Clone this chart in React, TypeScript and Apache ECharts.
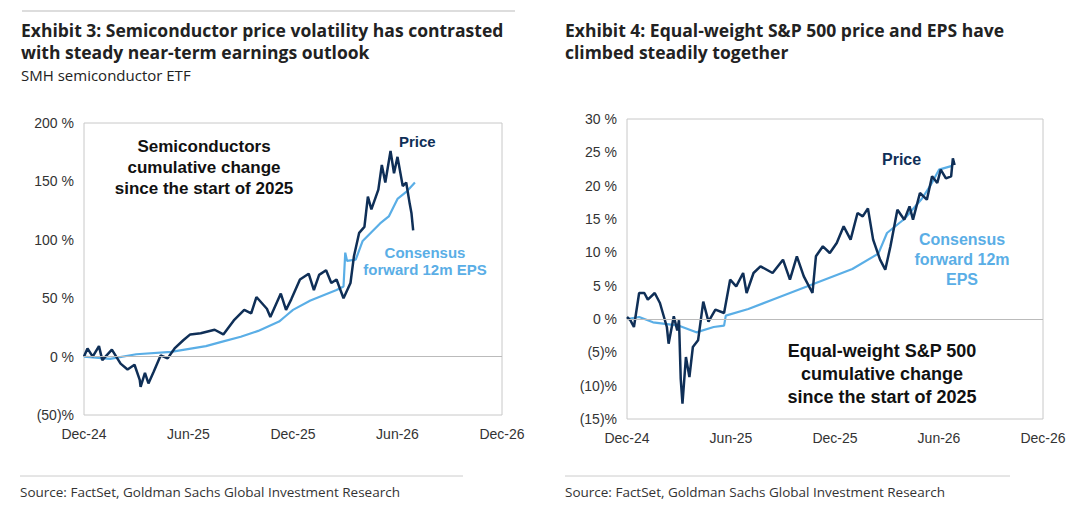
import React, { useEffect, useRef } from "react";
import * as echarts from "echarts";

const monthLabels = ["Dec-24", "Jun-25", "Dec-25", "Jun-26", "Dec-26"];

const semiPriceX = [0,0.2,0.5,0.86,1.05,1.6,2.1,2.5,2.9,3.2,3.25,3.5,3.7,4.0,4.4,4.8,5.2,5.7,6.1,6.7,7.5,8.0,8.6,9.2,9.6,9.9,10.5,10.7,11.3,11.6,11.9,12.4,12.9,13.2,13.5,13.9,14.2,14.5,14.9,15.3,15.5,15.8,16.1,16.3,16.5,16.9,17.1,17.3,17.6,17.8,18.0,18.3,18.5,18.7,18.8,18.9];
const semiPrice = [0,7,0,9,-3,6,-6,-11,-7,-20,-26,-14,-23,-13,1,-1.5,7,14,19,20,23,19,31,40,37,51,41,34,54,40,49,66,71,57,70,74,63,66,50,63,86,106,111,137,126,143,164,149,176,157,171,146,149,131,123,108];
const semiEpsX = [0,1.5,3,5,7,8,9,10,11.2,11.6,12,13,14.5,14.9,15.0,15.1,15.6,16,17,17.5,18,18.5,19];
const semiEps = [0,-2,2,4,9,13,17,22,30,35,40,48,57,60,89,82,83,99,114,120,135,141,149];

const ewPriceX = [0,0.2,0.4,0.7,1.0,1.2,1.6,1.9,2.3,2.4,2.7,2.9,3.0,3.1,3.2,3.4,3.6,3.8,4.1,4.4,4.7,5.1,5.6,5.95,6.3,6.7,6.9,7.3,7.7,8.4,9.0,9.4,9.8,10.2,10.7,10.9,11.3,11.7,12.1,12.5,12.9,13.3,13.6,13.9,14.2,14.6,14.9,15.2,15.6,16.0,16.3,16.5,16.9,17.3,17.6,17.9,18.1,18.4,18.7,18.8,18.9];
const ewPrice = [0.3,-0.2,-1.2,3.9,3.9,2.9,3.9,2.4,-1.2,-3.7,0.4,-1.7,-0.2,-9,-12.7,-5.7,-8.7,-4.2,-3.2,2.6,-0.4,1.4,0.9,5.9,4.9,6.9,3.9,6.9,7.9,6.9,8.9,5.9,9.4,6.4,3.9,9.4,10.9,9.9,11.4,13.9,11.9,15.9,15.4,16.6,11.9,8.9,7.4,10.9,16.4,14.9,16.9,14.9,18.9,17.9,21.4,20.4,22.4,21.1,21.4,24.1,23.1];
const ewEpsX = [0,0.7,1.5,3,4,5,5.6,5.7,7,8.5,10,11.5,13,14.5,15.0,16,17,17.5,18,18.8];
const ewEps = [0,0.3,-0.5,-1,-2,-1.2,-1,0.5,1.5,3,4.5,6,7.5,9.8,12.9,15,18,20,22.4,23];

const DARK = "#0f2f57";
const LIGHT = "#5aaee6";
const FONT = "Liberation Sans, Arial, sans-serif";
const TFONT = "Open Sans, sans-serif";

const zip = (xs: number[], ys: number[]) => xs.map((x, i) => [x, ys[i]]);
const yFmt = (v: number) => (v < 0 ? `(${-v})%` : `${v} %`);

export default function App() {
  const ref = useRef<HTMLDivElement>(null);
  useEffect(() => {
    const chart = echarts.init(ref.current!, null, { renderer: "svg" });
    const xAxis = (gi: number) => ({
      type: "value", gridIndex: gi, min: 0, max: 24, interval: 6,
      axisLine: { show: false }, axisTick: { show: false }, splitLine: { show: false },
      axisLabel: { formatter: (v: number) => monthLabels[v / 6] ?? "", color: "#333", fontSize: 14, fontFamily: FONT, margin: 12 },
    });
    const yAxis = (gi: number, min: number, max: number, iv: number) => ({
      type: "value", gridIndex: gi, min, max, interval: iv,
      axisLine: { show: false }, axisTick: { show: false }, splitLine: { show: false },
      axisLabel: { formatter: yFmt, color: "#333", fontSize: 14, fontFamily: FONT, margin: 10 },
    });
    const zero = { silent: true, symbol: "none", label: { show: false }, lineStyle: { color: "#bbb", type: "solid", width: 1 }, data: [{ yAxis: 0 }] };
    const line = (gi: number, data: number[][], color: string, width: number, z: number, mk?: boolean) => ({
      type: "line", xAxisIndex: gi, yAxisIndex: gi, data, showSymbol: false, z,
      lineStyle: { color, width }, ...(mk ? { markLine: zero } : {}),
    });
    const txt = (x: number, y: number, t: string, o: any = {}) => ({
      type: "text", x, y, style: { text: t, fontFamily: FONT, fontSize: 15, fontWeight: "bold", fill: "#111", ...o },
    });
    chart.setOption({
      animation: false,
      grid: [
        { left: 84, top: 123, width: 418, height: 292, show: true, borderColor: "#c8c8c8", borderWidth: 1 },
        { left: 627, top: 119, width: 416, height: 300, show: true, borderColor: "#c8c8c8", borderWidth: 1 },
      ],
      xAxis: [xAxis(0), xAxis(1)],
      yAxis: [yAxis(0, -50, 200, 50), yAxis(1, -15, 30, 5)],
      series: [
        line(0, zip(semiEpsX, semiEps), LIGHT, 2.2, 2, true),
        line(0, zip(semiPriceX, semiPrice), DARK, 2.5, 3),
        line(1, zip(ewEpsX, ewEps), LIGHT, 2.2, 2, true),
        line(1, zip(ewPriceX, ewPrice), DARK, 2.5, 3),
      ],
      graphic: [
        { type: "line", shape: { x1: 22, y1: 11, x2: 515, y2: 11 }, style: { stroke: "#bbb", lineWidth: 1 } },
        { type: "line", shape: { x1: 20, y1: 476, x2: 463, y2: 476 }, style: { stroke: "#ccc", lineWidth: 1 } },
        { type: "line", shape: { x1: 565, y1: 476, x2: 1010, y2: 476 }, style: { stroke: "#ccc", lineWidth: 1 } },
        txt(21, 19, "Exhibit 3: Semiconductor price volatility has contrasted\nwith steady near-term earnings outlook", { fontFamily: TFONT, fontSize: 17.5, lineHeight: 22, fill: "#222" }),
        txt(21, 67, "SMH semiconductor ETF", { fontFamily: TFONT, fontSize: 15, fontWeight: "normal", fill: "#222" }),
        txt(565, 19, "Exhibit 4: Equal-weight S&P 500 price and EPS have\nclimbed steadily together", { fontFamily: TFONT, fontSize: 17.5, lineHeight: 22, fill: "#222" }),
        txt(20, 485, "Source: FactSet, Goldman Sachs Global Investment Research", { fontFamily: TFONT, fontSize: 13.5, fontWeight: "normal", fill: "#333" }),
        txt(565, 485, "Source: FactSet, Goldman Sachs Global Investment Research", { fontFamily: TFONT, fontSize: 13.5, fontWeight: "normal", fill: "#333" }),
        txt(204, 136, "Semiconductors\ncumulative change\nsince the start of 2025", { textAlign: "center", lineHeight: 21, fontSize: 17 }),
        txt(399, 134, "Price", { fill: DARK, fontSize: 15 }),
        txt(425, 244, "Consensus\nforward 12m EPS", { fill: LIGHT, fontSize: 15, textAlign: "center", lineHeight: 17 }),
        txt(882, 151, "Price", { fill: DARK, fontSize: 16 }),
        txt(962, 229, "Consensus\nforward 12m\nEPS", { fill: LIGHT, fontSize: 16, textAlign: "center", lineHeight: 20 }),
        txt(882, 339, "Equal-weight S&P 500\ncumulative change\nsince the start of 2025", { textAlign: "center", lineHeight: 23, fontSize: 18 }),
      ],
    });
    return () => chart.dispose();
  }, []);
  return <div ref={ref} style={{ position: "fixed", left: 0, top: 0, width: 1080, height: 509, background: "#fff" }} />;
}
